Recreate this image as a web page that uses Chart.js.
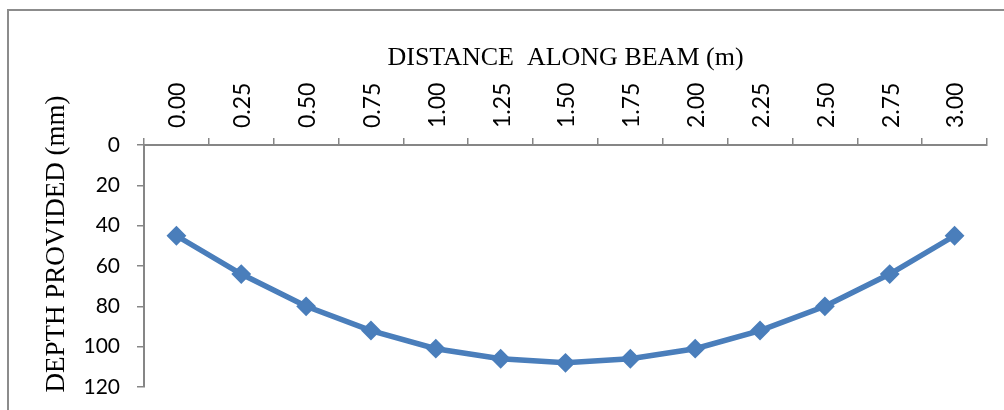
<!DOCTYPE html>
<html>
<head>
<meta charset="utf-8">
<script src="https://cdn.jsdelivr.net/npm/chart.js@4/dist/chart.umd.min.js"></script>
<style>
  html, body { margin: 0; padding: 0; background: #fff; overflow: hidden; }
  #frame {
    position: absolute; left: 7px; top: 9px; width: 1020px; height: 430px;
    border-left: 2px solid #8c8c8c; border-top: 2px solid #8c8c8c;
  }
  #wrap { position: absolute; left: 0; top: 0; width: 1004px; height: 410px; }
</style>
</head>
<body>
<div id="frame"></div>
<div id="wrap"><canvas id="beam-chart"></canvas></div>
<script>
// distance along beam (m) and depth provided (mm)
const distances = ['0.00','0.25','0.50','0.75','1.00','1.25','1.50','1.75','2.00','2.25','2.50','2.75','3.00'];
const depths = [45, 64, 80, 92, 101, 106, 108, 106, 101, 92, 80, 64, 45];

const axisGrey = '#868686';
const lineBlue = '#4a7ebb';
const xTickSize = 23;

// y title sits a bit higher than the plot centre in the original, so draw it by hand
const yTitle = {
  id: 'yTitle',
  afterDraw(chart) {
    const ctx = chart.ctx;
    ctx.save();
    ctx.translate(57, chart.chartArea.top + 99);
    ctx.rotate(-Math.PI / 2);
    ctx.font = '27px "Liberation Serif"';
    ctx.fillStyle = '#000';
    ctx.textAlign = 'center';
    ctx.textBaseline = 'middle';
    ctx.fillText('DEPTH PROVIDED (mm)', 0, 0);
    ctx.restore();
  }
};

const config = {
  type: 'line',
  data: {
    labels: distances,
    datasets: [{
      label: 'Depth provided',
      data: depths,
      borderColor: lineBlue,
      backgroundColor: lineBlue,
      borderWidth: 5.5,
      pointStyle: 'rectRot',
      pointRadius: 8.5,
      pointBorderWidth: 2,
      pointBackgroundColor: lineBlue,
      pointBorderColor: lineBlue,
      tension: 0
    }]
  },
  options: {
    responsive: true,
    maintainAspectRatio: false,
    animation: false,
    layout: { padding: { left: 0, top: 0, right: 17, bottom: 23 } },
    plugins: { legend: { display: false }, tooltip: { enabled: false } },
    scales: {
      x: {
        position: 'top',
        offset: true,
        grid: { offset: true, drawOnChartArea: false, color: axisGrey, lineWidth: 1.5, tickLength: 7 },
        border: { color: axisGrey, width: 2 },
        ticks: {
          minRotation: 90, maxRotation: 90, padding: 10,
          labelOffset: xTickSize * 1.2 + 1.5,
          color: '#000', font: { family: 'Lato', size: xTickSize }
        },
        title: {
          display: true, text: 'DISTANCE  ALONG BEAM (m)',
          color: '#000', font: { family: 'Liberation Serif', size: 26 },
          padding: { top: 43, bottom: 0 }
        },
        afterFit: function(scale) { scale.height = 145; }
      },
      y: {
        reverse: true,
        min: 0, max: 120,
        grid: { drawOnChartArea: false, color: axisGrey, lineWidth: 1.5, tickLength: 7 },
        border: { color: axisGrey, width: 2 },
        ticks: {
          stepSize: 20, padding: 17,
          color: '#000', font: { family: 'Lato', size: 21 }
        },
        afterFit: function(scale) {
          scale.width = 144;
          scale.paddingTop = 0;
          scale.paddingBottom = 0;
        }
      }
    }
  },
  plugins: [yTitle]
};

new Chart(document.getElementById('beam-chart').getContext('2d'), config);
</script>
</body>
</html>
